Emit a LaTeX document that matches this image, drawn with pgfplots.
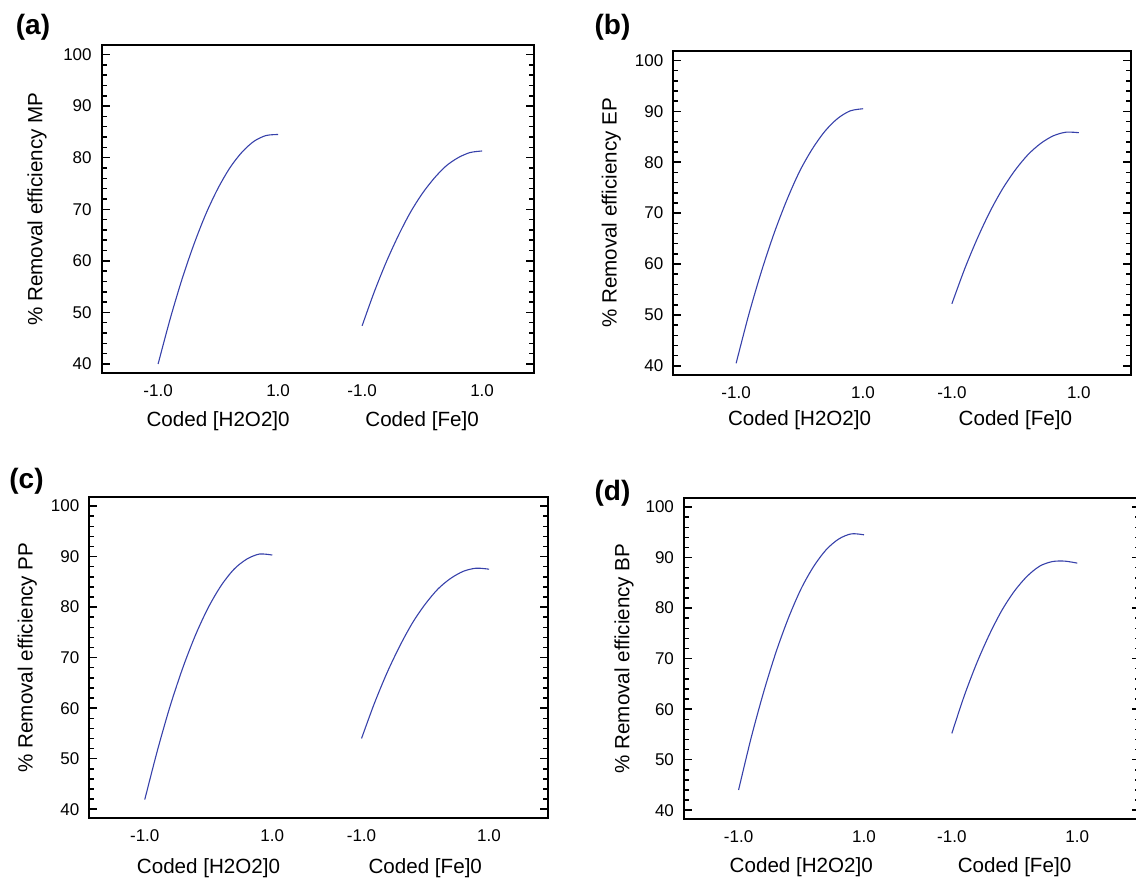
\documentclass[border=0pt]{standalone}
\usepackage{fontspec}
\setmainfont{Liberation Sans}
\usepackage{pgfplots}
\pgfplotsset{compat=1.18}
\definecolor{curve}{RGB}{55,65,170}

\newcommand{\lblfont}{\fontsize{10.3}{12}\selectfont}
\pgfplotsset{
  panel/.style={
    scale only axis, anchor=north west, clip=false,
    ymin=38.2, ymax=101.85,
    ytick={40,50,...,100}, minor y tick num=4,
    xtick={-1,1,2.4,4.4}, xticklabels={-1.0,1.0,-1.0,1.0},
    xtick style={draw=none},
    ytick style={line width=0.75pt, black},
    major tick length=4pt, minor tick length=2.5pt,
    tick align=inside,
    axis line style={line width=1pt},
    ticklabel style={font=\fontsize{8.5}{10}\selectfont},
    /pgf/number format/assume math mode=true,
    xticklabel style={yshift=-2.1pt},
    yticklabel style={xshift=-1.5pt},
  },
  crv/.style={color=curve, line width=0.55pt, smooth, mark=none},
}

\begin{document}
\begin{tikzpicture}
\useasboundingbox (0,0) rectangle (568pt,440pt);

% (a) MP
\begin{axis}[panel, at={(50.85pt,417.5pt)}, width=216.3pt, height=164.15pt, xmin=-1.94, xmax=5.27]
\addplot[crv] coordinates {(-1,40.0)(-0.8,48.7)(-0.6,56.5)(-0.4,63.3)(-0.2,69.2)(0,74.1)(0.2,78.1)(0.4,81.1)(0.6,83.2)(0.8,84.3)(1,84.5)};
\addplot[crv] coordinates {(2.4,47.4)(2.6,53.9)(2.8,59.7)(3.0,64.8)(3.2,69.3)(3.4,73.0)(3.6,76.0)(3.8,78.4)(4.0,80.0)(4.2,81.0)(4.4,81.3)};
\node[rotate=90, font=\lblfont] at ([xshift=-32.3pt]rel axis cs:0,0.5) {\% Removal efficiency MP};
\node[font=\lblfont] at ([yshift=-23.7pt]axis cs:0,38.2) {Coded [H2O2]0};
\node[font=\lblfont] at ([yshift=-23.7pt]axis cs:3.4,38.2) {Coded [Fe]0};
\end{axis}

% (b) EP
\begin{axis}[panel, at={(336.65pt,414.5pt)}, width=229.1pt, height=162pt, xmin=-1.99, xmax=5.23]
\addplot[crv] coordinates {(-1,40.5)(-0.8,50.1)(-0.6,58.6)(-0.4,66.1)(-0.2,72.6)(0,78.2)(0.2,82.6)(0.4,86.1)(0.6,88.6)(0.8,90.1)(1,90.5)};
\addplot[crv] coordinates {(2.4,52.2)(2.6,59.0)(2.8,65.0)(3.0,70.3)(3.2,74.8)(3.4,78.5)(3.6,81.5)(3.8,83.7)(4.0,85.2)(4.2,85.9)(4.4,85.8)};
\node[rotate=90, font=\lblfont] at ([xshift=-31pt]rel axis cs:0,0.5) {\% Removal efficiency EP};
\node[font=\lblfont] at ([yshift=-22.5pt]axis cs:0,38.2) {Coded [H2O2]0};
\node[font=\lblfont] at ([yshift=-22.5pt]axis cs:3.4,38.2) {Coded [Fe]0};
\end{axis}

% (c) PP
\begin{axis}[panel, at={(44.65pt,191.65pt)}, width=229.2pt, height=160.8pt, xmin=-1.87, xmax=5.32]
\addplot[crv] coordinates {(-1,41.9)(-0.8,51.7)(-0.6,60.5)(-0.4,68.1)(-0.2,74.6)(0,80.0)(0.2,84.3)(0.4,87.5)(0.6,89.5)(0.8,90.5)(1,90.3)};
\addplot[crv] coordinates {(2.4,54.0)(2.6,60.9)(2.8,67.0)(3.0,72.3)(3.2,76.9)(3.4,80.6)(3.6,83.6)(3.8,85.7)(4.0,87.1)(4.2,87.7)(4.4,87.5)};
\node[rotate=90, font=\lblfont] at ([xshift=-31pt]rel axis cs:0,0.5) {\% Removal efficiency PP};
\node[font=\lblfont] at ([yshift=-25pt]axis cs:0,38.2) {Coded [H2O2]0};
\node[font=\lblfont] at ([yshift=-25pt]axis cs:3.4,38.2) {Coded [Fe]0};
\end{axis}

% (d) BP
\begin{axis}[panel, at={(342pt,191.15pt)}, width=228pt, height=160.8pt, xmin=-1.87, xmax=5.40]
\addplot[crv] coordinates {(-1,44.0)(-0.8,54.3)(-0.6,63.4)(-0.4,71.4)(-0.2,78.2)(0,83.9)(0.2,88.3)(0.4,91.6)(0.6,93.7)(0.8,94.7)(1,94.5)};
\addplot[crv] coordinates {(2.4,55.2)(2.6,62.7)(2.8,69.2)(3.0,74.8)(3.2,79.6)(3.4,83.4)(3.6,86.3)(3.8,88.3)(4.0,89.2)(4.2,89.3)(4.4,88.9)};
\node[rotate=90, font=\lblfont] at ([xshift=-30pt]rel axis cs:0,0.5) {\% Removal efficiency BP};
\node[font=\lblfont] at ([yshift=-23.7pt]axis cs:0,38.2) {Coded [H2O2]0};
\node[font=\lblfont] at ([yshift=-23.7pt]axis cs:3.4,38.2) {Coded [Fe]0};
\end{axis}

\node[font=\bfseries\fontsize{14}{16}\selectfont] at (16.5pt,426.5pt) {(a)};
\node[font=\bfseries\fontsize{14}{16}\selectfont] at (306.25pt,426.5pt) {(b)};
\node[font=\bfseries\fontsize{14}{16}\selectfont] at (13.25pt,199.15pt) {(c)};
\node[font=\bfseries\fontsize{14}{16}\selectfont] at (306.25pt,193.35pt) {(d)};
\end{tikzpicture}
\end{document}
